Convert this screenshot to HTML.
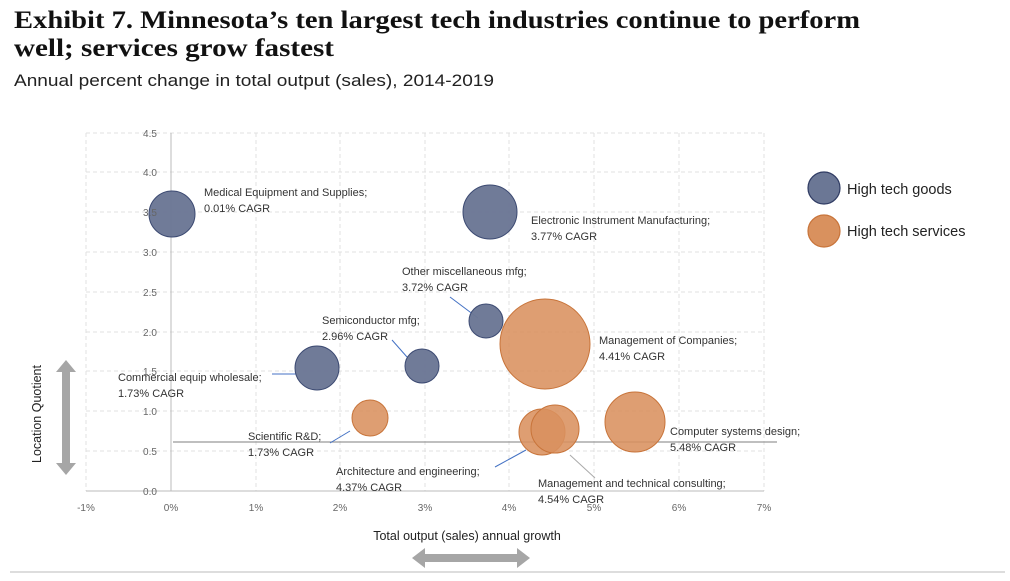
<!DOCTYPE html>
<html><head><meta charset="utf-8"><style>html,body{margin:0;padding:0;background:#fff}svg{display:block}</style></head>
<body>
<svg width="1010" height="581" xmlns="http://www.w3.org/2000/svg" font-family="Liberation Sans, sans-serif">
<rect width="1010" height="581" fill="#fff"/>
<text x="14" y="28" font-family="Liberation Serif, serif" font-weight="bold" font-size="25" fill="#111" textLength="846" lengthAdjust="spacingAndGlyphs">Exhibit 7. Minnesota’s ten largest tech industries continue to perform</text>
<text x="14" y="56" font-family="Liberation Serif, serif" font-weight="bold" font-size="25" fill="#111" textLength="320" lengthAdjust="spacingAndGlyphs">well; services grow fastest</text>
<text x="14" y="86" font-size="17" fill="#222" textLength="480" lengthAdjust="spacingAndGlyphs">Annual percent change in total output (sales), 2014-2019</text>
<g stroke="#e0e0e0" stroke-dasharray="4,3" stroke-width="1">
<line x1="86" y1="133" x2="764" y2="133"/><line x1="86" y1="172" x2="764" y2="172"/><line x1="86" y1="212" x2="764" y2="212"/><line x1="86" y1="252" x2="764" y2="252"/><line x1="86" y1="292" x2="764" y2="292"/><line x1="86" y1="332" x2="764" y2="332"/><line x1="86" y1="371" x2="764" y2="371"/><line x1="86" y1="411" x2="764" y2="411"/><line x1="86" y1="451" x2="764" y2="451"/>
<line x1="86" y1="133" x2="86" y2="491"/><line x1="256" y1="133" x2="256" y2="491"/><line x1="340" y1="133" x2="340" y2="491"/><line x1="425" y1="133" x2="425" y2="491"/><line x1="509" y1="133" x2="509" y2="491"/><line x1="594" y1="133" x2="594" y2="491"/><line x1="679" y1="133" x2="679" y2="491"/><line x1="764" y1="133" x2="764" y2="491"/>
</g>
<line x1="86" y1="491" x2="764" y2="491" stroke="#bbb"/>
<line x1="171" y1="133" x2="171" y2="491" stroke="#bbb"/>
<line x1="173" y1="442" x2="777" y2="442" stroke="#999" stroke-width="1.2"/>
<g stroke="#4472c4" stroke-width="1">
<line x1="450" y1="297" x2="478" y2="318"/><line x1="392" y1="340" x2="407" y2="357"/><line x1="272" y1="374" x2="296" y2="374"/><line x1="350" y1="431" x2="330" y2="443"/><line x1="495" y1="467" x2="526" y2="450"/>
</g>
<line x1="570" y1="455" x2="595" y2="478" stroke="#aaa"/>
<g fill="#6b7795" stroke="#3c4a72" stroke-width="1" fill-opacity="0.97">
<circle cx="172" cy="214" r="23"/><circle cx="490" cy="212" r="27"/><circle cx="486" cy="321" r="17"/><circle cx="422" cy="366" r="17"/><circle cx="317" cy="368" r="22"/>
</g>
<g fill="#d9915e" stroke="#c8743a" stroke-width="1" fill-opacity="0.88">
<circle cx="370" cy="418" r="18"/><circle cx="545" cy="344" r="45"/><circle cx="635" cy="422" r="30"/><circle cx="542" cy="432" r="23"/><circle cx="555" cy="429" r="24"/>
</g>
<g font-size="10" fill="#666" text-anchor="middle">
<text x="150" y="137">4.5</text><text x="150" y="176">4.0</text><text x="150" y="216">3.5</text><text x="150" y="256">3.0</text><text x="150" y="296">2.5</text><text x="150" y="336">2.0</text><text x="150" y="375">1.5</text><text x="150" y="415">1.0</text><text x="150" y="455">0.5</text><text x="150" y="495">0.0</text>
<text x="86" y="511">-1%</text><text x="171" y="511">0%</text><text x="256" y="511">1%</text><text x="340" y="511">2%</text><text x="425" y="511">3%</text><text x="509" y="511">4%</text><text x="594" y="511">5%</text><text x="679" y="511">6%</text><text x="764" y="511">7%</text>
</g>
<g font-size="11" fill="#333">
<text x="204" y="196">Medical Equipment and Supplies;</text><text x="204" y="212">0.01% CAGR</text>
<text x="531" y="224">Electronic Instrument Manufacturing;</text><text x="531" y="240">3.77% CAGR</text>
<text x="402" y="275">Other miscellaneous mfg;</text><text x="402" y="291">3.72% CAGR</text>
<text x="322" y="324">Semiconductor mfg;</text><text x="322" y="340">2.96% CAGR</text>
<text x="118" y="381">Commercial equip wholesale;</text><text x="118" y="397">1.73% CAGR</text>
<text x="248" y="440">Scientific R&amp;D;</text><text x="248" y="456">1.73% CAGR</text>
<text x="336" y="475">Architecture and engineering;</text><text x="336" y="491">4.37% CAGR</text>
<text x="599" y="344">Management of Companies;</text><text x="599" y="360">4.41% CAGR</text>
<text x="670" y="435">Computer systems design;</text><text x="670" y="451">5.48% CAGR</text>
<text x="538" y="487">Management and technical consulting;</text><text x="538" y="503">4.54% CAGR</text>
</g>
<circle cx="824" cy="188" r="16" fill="#6b7795" stroke="#2f3b63" stroke-width="1.2"/>
<circle cx="824" cy="231" r="16" fill="#d9915e" stroke="#c8743a" stroke-width="1.2"/>
<text x="847" y="194" font-size="14.5" fill="#222">High tech goods</text>
<text x="847" y="236" font-size="14.5" fill="#222">High tech services</text>
<text x="467" y="540" font-size="12.5" fill="#222" text-anchor="middle">Total output (sales) annual growth</text>
<text transform="translate(41,414) rotate(-90)" font-size="12.5" fill="#222" text-anchor="middle">Location Quotient</text>
<polygon points="412,558 425,548 425,554 517,554 517,548 530,558 517,568 517,562 425,562 425,568" fill="#a6a6a6"/>
<polygon points="66,360 76,372 70,372 70,463 76,463 66,475 56,463 62,463 62,372 56,372" fill="#a6a6a6"/>
<line x1="10" y1="572" x2="1005" y2="572" stroke="#bbb"/>
</svg>
</body></html>
